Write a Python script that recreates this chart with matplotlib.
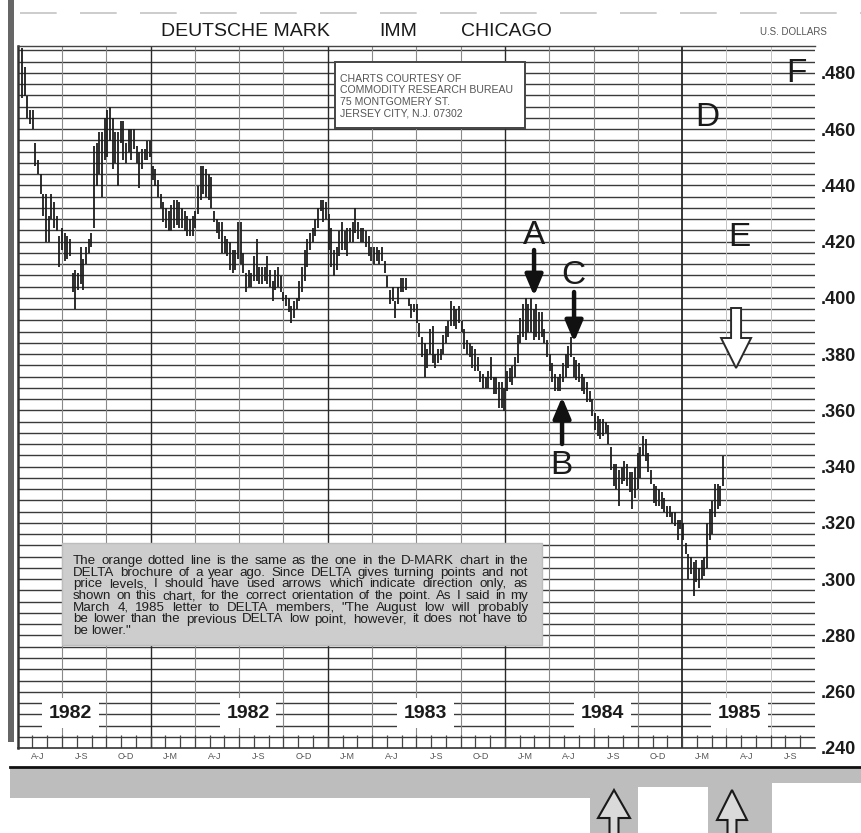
import numpy as np
import matplotlib
matplotlib.use("Agg")
import matplotlib.pyplot as plt
from matplotlib.patches import Rectangle, Polygon
from matplotlib.lines import Line2D
from matplotlib import font_manager

# ---------------- data ----------------
bar_high = [
    .489, .482, .472, .467, .467, .455, .449, .444, .437, .437, .429, .437, .434, .429, .422, .425,
    .423, .422, .421, .409, .410, .409, .418, .414, .418, .421, .423, .454, .455, .459, .459, .464,
    .467, .468, .464, .459, .459, .463, .463, .455, .460, .460, .460, .454, .452, .453, .453, .456,
    .456, .447, .446, .442, .437, .434, .432, .431, .433, .435, .435, .434, .432, .431, .429, .428,
    .429, .431, .440, .447, .447, .446, .444, .443, .431, .428, .427, .427, .422, .421, .420, .417,
    .417, .427, .427, .416, .409, .410, .409, .415, .421, .411, .411, .411, .415, .410, .406, .410,
    .411, .408, .402, .401, .400, .397, .399, .400, .406, .411, .417, .421, .423, .425, .428, .432,
    .435, .435, .434, .430, .425, .417, .418, .424, .427, .424, .425, .425, .427, .432, .427, .425,
    .425, .424, .422, .418, .418, .418, .417, .418, .413, .408, .403, .404, .399, .404, .407, .407,
    .407, .400, .398, .398, .398, .391, .386, .384, .382, .389, .390, .380, .382, .382, .387, .390,
    .392, .399, .397, .396, .397, .392, .389, .385, .384, .383, .382, .379, .374, .373, .372, .374,
    .379, .372, .372, .370, .370, .368, .374, .375, .376, .379, .387, .393, .398, .400, .398, .400,
    .396, .398, .395, .395, .389, .385, .380, .377, .373, .372, .373, .377, .380, .383, .386, .379,
    .378, .377, .373, .372, .370, .367, .364, .359, .358, .357, .357, .356, .355, .347, .341, .341,
    .339, .340, .342, .341, .338, .338, .340, .345, .347, .351, .350, .345, .339, .334, .333, .332,
    .331, .329, .326, .326, .324, .324, .321, .321, .320, .313, .309, .308, .306, .307, .304, .307,
    .308, .320, .325, .328, .334, .334, .333, .344,
]
bar_low = [
    .471, .472, .464, .462, .460, .447, .444, .437, .429, .420, .420, .428, .425, .424, .411, .417,
    .413, .414, .415, .402, .396, .403, .405, .403, .412, .416, .418, .425, .440, .444, .436, .449,
    .450, .456, .446, .448, .440, .455, .449, .448, .452, .449, .453, .448, .439, .446, .449, .449,
    .450, .442, .440, .436, .432, .427, .425, .424, .424, .425, .426, .425, .425, .424, .422, .422,
    .422, .425, .430, .435, .437, .436, .435, .432, .427, .423, .421, .416, .416, .415, .410, .409,
    .410, .414, .412, .409, .402, .404, .404, .406, .406, .405, .405, .406, .405, .404, .399, .403,
    .404, .402, .399, .397, .395, .391, .393, .396, .399, .402, .406, .411, .417, .420, .422, .425,
    .431, .427, .428, .417, .411, .408, .410, .415, .417, .417, .415, .420, .420, .423, .421, .420,
    .420, .418, .415, .413, .412, .413, .412, .413, .409, .404, .398, .399, .393, .398, .402, .402,
    .403, .397, .393, .395, .391, .386, .379, .372, .375, .380, .377, .375, .377, .378, .380, .384,
    .386, .390, .390, .389, .391, .388, .382, .380, .379, .375, .374, .374, .370, .368, .368, .368,
    .371, .366, .366, .361, .361, .360, .367, .370, .369, .372, .377, .384, .386, .385, .388, .388,
    .385, .386, .385, .386, .384, .379, .374, .370, .367, .367, .367, .370, .372, .375, .379, .372,
    .371, .370, .367, .366, .363, .363, .358, .353, .351, .350, .351, .352, .348, .339, .333, .332,
    .326, .334, .335, .333, .331, .325, .329, .332, .336, .344, .342, .338, .334, .327, .326, .326,
    .325, .324, .322, .322, .320, .319, .314, .318, .314, .309, .300, .302, .294, .299, .297, .300,
    .301, .304, .314, .316, .322, .325, .326, .333,
]
quarter_labels = ["A-J", "J-S", "O-D", "J-M"] * 4 + ["A-J", "J-S"]
year_labels = ["1982", "1982", "1983", "1984", "1985"]
price_ticks = [0.240, 0.260, 0.280, 0.300, 0.320, 0.340, 0.360, 0.380,
               0.400, 0.420, 0.440, 0.460, 0.480]
note_lines = [
    "The orange dotted line is the same as the one in the D-MARK chart in the",
    "DELTA brochure of a year ago. Since DELTA gives turning points and not",
    "price levels, I should have used arrows which indicate direction only, as",
    "shown on this chart, for the correct orientation of the point. As I said in my",
    "March 4, 1985 letter to DELTA members, \"The August low will probably",
    "be lower than the previous DELTA low point, however, it does not have to",
    "be lower.\"",
]
credit_lines = ["CHARTS COURTESY OF", "COMMODITY RESEARCH BUREAU",
                "75 MONTGOMERY ST.", "JERSEY CITY, N.J. 07302"]

# ---------------- layout / style ----------------
W, H = 862, 833
available = {f.name for f in font_manager.fontManager.ttflist}
SANS = "Liberation Sans" if "Liberation Sans" in available else "DejaVu Sans"
plt.rcParams["font.family"] = [SANS, "DejaVu Sans"]

fig = plt.figure(figsize=(W / 100, H / 100), dpi=100)
fig.patch.set_facecolor("white")

def fx(px):
    return px / W

def fy(py):
    return 1 - py / H

ax_left, ax_right, ax_top, ax_bottom = 17.7, 815.0, 46.0, 748.0
ax = fig.add_axes([fx(ax_left), fy(ax_bottom), fx(ax_right - ax_left), (ax_bottom - ax_top) / H])
ax.set_xlim(0, 18)
ax.set_ylim(0.240, 0.4896)
ax.set_facecolor("white")

# grid
grid_levels = np.arange(0.244, 0.4885, 0.004)
ax.hlines(grid_levels, 0, 18, color="#3a3a3a", lw=1.0, zorder=1)
for q in range(1, 18):
    if q in (3, 7, 11, 15):
        ax.axvline(q, color="#2a2a2a", lw=1.3 if q == 15 else 1.0, zorder=1)
    elif q >= 16:
        ax.axvline(q, color="#c4c4c4", lw=0.7, zorder=1)
    else:
        ax.axvline(q, color="#8a8a8a", lw=0.8, zorder=1)
months = np.arange(1, 54) / 3.0
ax.vlines(months, 0.240, 0.2445, color="#444444", lw=0.9, zorder=1)

# price bars
n = len(bar_high)
first_bar, bar_step = 0.097, 0.06018
xs = first_bar + bar_step * np.arange(n)
ax.vlines(xs, bar_low, bar_high, color="#1c1c1c", lw=1.3, zorder=3)

# axes decorations
ax.spines["right"].set_visible(False)
ax.spines["left"].set_linewidth(1.8)
ax.spines["left"].set_color("#333333")
ax.spines["top"].set_linewidth(1.0)
ax.spines["top"].set_color("#444444")
ax.spines["bottom"].set_linewidth(1.2)
ax.spines["bottom"].set_color("#333333")

ax.yaxis.set_ticks_position("right")
ax.set_yticks(price_ticks)
ax.set_yticklabels(["." + f"{int(round(v * 1000)):03d}" for v in price_ticks],
                   fontsize=13, fontweight="bold", color="#1a1a1a", family=[SANS])
ax.tick_params(axis="y", length=0, pad=4)
ax.set_xticks(np.arange(18) + 0.45)
ax.set_xticklabels(quarter_labels, fontsize=6.5, color="#555555", family=[SANS])
ax.tick_params(axis="x", length=0, pad=3)

# year labels inside plot
year_pos = [1.2, 5.2, 9.2, 13.2, 16.3]
for xq, lab in zip(year_pos, year_labels):
    ax.text(xq, 0.2524, lab, ha="center", va="center", fontsize=14, fontweight="bold",
            color="#1a1a1a", zorder=5,
            bbox=dict(boxstyle="square,pad=0.35", fc="white", ec="none"))

# letters and arrows
def q_of(px):
    return (px - ax_left) / 44.29

def v_of(py):
    return 0.480 - (py - 73) / 2812.5

letters = {"A": (534, 236), "C": (573, 276), "B": (561, 466),
           "D": (707, 118), "E": (739, 238), "F": (796, 74)}
for lab, (px, py) in letters.items():
    ax.text(q_of(px), v_of(py), lab, ha="center", va="center", fontsize=24,
            family=[SANS], color="#1a1a1a", zorder=6)

arrow_style = dict(arrowstyle="-|>,head_length=0.9,head_width=0.38", color="#111111",
                   lw=3.2, mutation_scale=14, shrinkA=0, shrinkB=0)
for (px, y0, y1) in [(534, 250, 296), (574, 292, 342), (562, 444, 397)]:
    ax.annotate("", xy=(q_of(px), v_of(y1)), xytext=(q_of(px), v_of(y0)),
                arrowprops=arrow_style, zorder=6)

# hollow down arrow
cx, top, base, tip = 736, 308, 338, 368
sw, hw = 5, 15
pts = [(cx - sw, top), (cx + sw, top), (cx + sw, base), (cx + hw, base), (cx, tip),
       (cx - hw, base), (cx - sw, base)]
ax.add_patch(Polygon([(q_of(a), v_of(b)) for a, b in pts], closed=True, fill=True,
                     fc="white", ec="#2a2a2a", lw=1.4, zorder=6))

# ---------------- figure level decorations ----------------
def frect(x0, y0, x1, y1, **kw):
    r = Rectangle((fx(x0), fy(y1)), fx(x1 - x0), (y1 - y0) / H,
                  transform=fig.transFigure, **kw)
    fig.add_artist(r)
    return r

# left page border
frect(8, 0, 14, 742, fc="#666666", ec="none", zorder=1)
# top faint scan line
fig.add_artist(Line2D([fx(20), fx(862)], [fy(13), fy(13)], transform=fig.transFigure,
                      color="#c4c4c4", lw=1.2, ls=(0, (22, 14)), zorder=1))

# title
for txt, cxp in [("DEUTSCHE MARK", 245), ("IMM", 398), ("CHICAGO", 506)]:
    fig.text(fx(cxp), fy(32), txt, ha="center", va="center", fontsize=14,
             color="#1a1a1a", zorder=3)
fig.text(fx(793), fy(32), "U.S. DOLLARS", ha="center", va="center", fontsize=7,
         color="#555555", zorder=3)

# credit box
frect(335, 62, 525, 128, fc="white", ec="#444444", lw=1.4, zorder=2)
for i, line in enumerate(credit_lines):
    fig.text(fx(340), fy(81.5 + 11.7 * i), line, ha="left", va="baseline", fontsize=7.6,
             color="#555555", zorder=3)

# note box: word-by-word justified text
frect(62, 543, 542, 645, fc="#cdcdcd", ec="#bdbdbd", lw=1.0, zorder=2)
renderer = fig.canvas.get_renderer()
x0, x1 = 73.0, 528.0

def measure(s, size):
    t = fig.text(0, 0, s, fontsize=size)
    w = t.get_window_extent(renderer).width
    t.remove()
    return w

base_size = 9.6
max_w = max(measure(l, base_size) for l in note_lines)
note_size = min(base_size, base_size * (x1 - x0 - 6) / max_w)
for i, line in enumerate(note_lines):
    ybase = 564 + 11.7 * i
    words = line.split()
    texts, widths = [], []
    for w in words:
        t = fig.text(0, 0, w, ha="left", va="baseline", fontsize=note_size,
                     color="#1e1e1e", zorder=3)
        widths.append(t.get_window_extent(renderer).width)
        texts.append(t)
    if i < len(note_lines) - 1 and len(words) > 1:
        gap = (x1 - x0 - sum(widths)) / (len(words) - 1)
    else:
        gap = measure("a a", note_size) - measure("aa", note_size)
    xcur = x0
    for t, wdt in zip(texts, widths):
        t.set_position((fx(xcur), fy(ybase)))
        xcur += wdt + gap

# bottom band
fig.add_artist(Line2D([fx(10), fx(862)], [fy(767), fy(767)], transform=fig.transFigure,
                      color="#111111", lw=2.0, zorder=3))
frect(10, 768, 862, 798, fc="#bdbdbd", ec="none", zorder=1)
frect(590, 798, 638, 833, fc="#bdbdbd", ec="none", zorder=1)
frect(708, 798, 772, 833, fc="#bdbdbd", ec="none", zorder=1)
frect(638, 787, 708, 833, fc="white", ec="none", zorder=2)
frect(772, 783, 862, 833, fc="white", ec="none", zorder=2)

# hollow up arrows below chart
for cxp, apex, basey, hwp in [(614, 790, 818, 16), (732, 790, 820, 15)]:
    swp = 4.5
    pts = [(cxp, apex), (cxp + hwp, basey), (cxp + swp, basey), (cxp + swp, 840),
           (cxp - swp, 840), (cxp - swp, basey), (cxp - hwp, basey)]
    fig.add_artist(Polygon([(fx(a), fy(b)) for a, b in pts], closed=True,
                           transform=fig.transFigure, fc="#dadada", ec="#1a1a1a",
                           lw=1.5, zorder=3))

fig.savefig("out.png", dpi=100, facecolor="white")
